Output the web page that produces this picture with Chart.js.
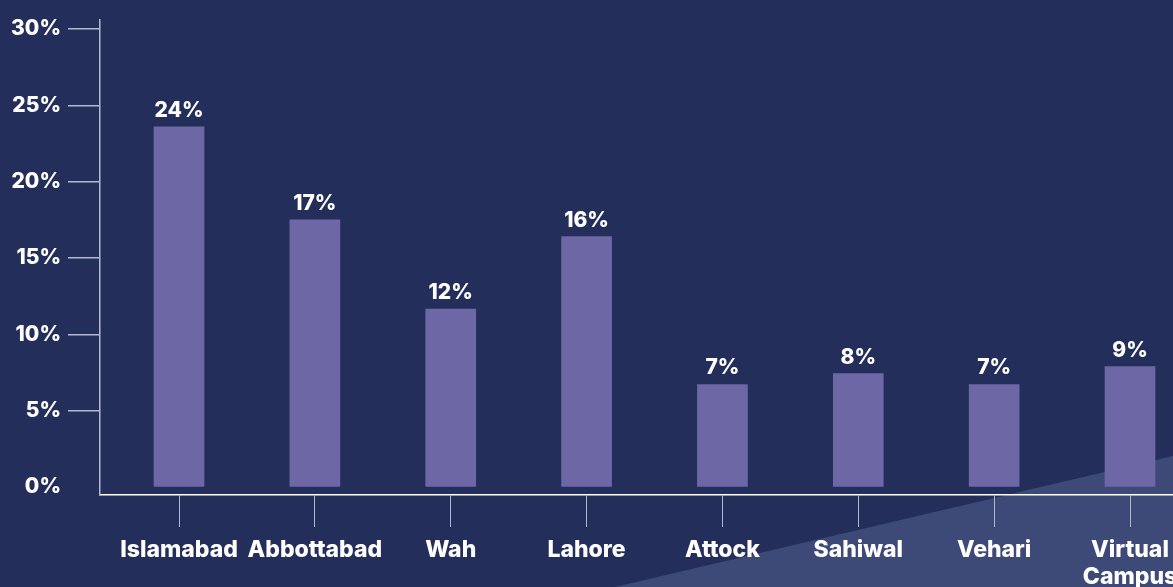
<!DOCTYPE html>
<html>
<head>
<meta charset="utf-8">
<script src="https://cdn.jsdelivr.net/npm/chart.js@4"></script>
<style>
  html, body { margin: 0; padding: 0; width: 1173px; height: 587px; overflow: hidden; background: #242e5a; }
  #wrap { position: relative; width: 1173px; height: 587px; }
  #shade { position: absolute; left: 0; top: 0; width: 1173px; height: 587px; background: #3d4a78;
           clip-path: polygon(615px 587px, 1173px 456px, 1173px 587px); }
  canvas { position: absolute; left: 0; top: 0; }
</style>
</head>
<body>
<div id="wrap">
  <div id="shade"></div>
  <canvas id="c" width="1173" height="587"></canvas>
</div>
<script>
const categories = ["Islamabad", "Abbottabad", "Wah", "Lahore", "Attock", "Sahiwal", "Vehari", "Virtual Campus"];
const values = [23.6, 17.5, 11.66, 16.4, 6.72, 7.43, 6.72, 7.89];
const valueLabels = ["24%", "17%", "12%", "16%", "7%", "8%", "7%", "9%"];
const yTicks = [0, 5, 10, 15, 20, 25, 30];

const FONT = "Inter, 'Open Sans', sans-serif";

const valueLabelPlugin = {
  id: 'valueLabels',
  afterDatasetsDraw(chart) {
    const ctx = chart.ctx;
    const meta = chart.getDatasetMeta(0);
    ctx.save();
    ctx.fillStyle = '#ffffff';
    ctx.font = "800 21px " + FONT;
    ctx.textAlign = 'center';
    ctx.textBaseline = 'alphabetic';
    meta.data.forEach((el, i) => {
      ctx.fillText(valueLabels[i], el.x, el.y - 10);
    });
    ctx.restore();
  }
};

new Chart(document.getElementById('c'), {
  type: 'bar',
  data: {
    datasets: [{
      data: values.map((v, i) => ({ x: i, y: v })),
      backgroundColor: '#6d67a6',
      barThickness: 50,
      borderWidth: 0
    }]
  },
  options: {
    responsive: false,
    animation: false,
    devicePixelRatio: 1,
    layout: { padding: { top: 16, right: 0, bottom: 0, left: 0 } },
    plugins: { legend: { display: false }, tooltip: { enabled: false } },
    scales: {
      x: {
        type: 'linear',
        offset: false,
        min: -0.5815,
        max: 7.3165,
        afterBuildTicks: s => { s.ticks = categories.map((c, i) => ({ value: i })); },
        afterFit: s => { s.height = 92; s.paddingLeft = 0; s.paddingRight = 0; },
        grid: { offset: false, drawOnChartArea: false, drawTicks: true, tickLength: 32, color: '#b4b8cc', lineWidth: 1 },
        border: { display: true, color: '#ffffff', width: 1.5 },
        ticks: {
          autoSkip: false, minRotation: 0, maxRotation: 0, padding: 9,
          color: '#ffffff',
          font: { family: FONT, size: 23, weight: '800', lineHeight: 1.2 },
          callback: v => categories[v].split(' ')
        }
      },
      y: {
        min: -0.52,
        max: 30.62,
        afterBuildTicks: s => { s.ticks = yTicks.map(v => ({ value: v })); },
        afterFit: s => { s.width = 100; },
        grid: {
          drawOnChartArea: false, drawTicks: true, tickLength: 32, lineWidth: 1.5,
          color: c => (c.tick && c.tick.value === 0) ? 'rgba(0,0,0,0)' : '#b4b8cc'
        },
        border: { display: true, color: '#b4b8cc', width: 1.5 },
        ticks: {
          padding: 7,
          color: '#ffffff',
          font: { family: FONT, size: 21, weight: '800' },
          callback: v => v + '%'
        }
      }
    }
  },
  plugins: [valueLabelPlugin]
});
</script>
</body>
</html>
